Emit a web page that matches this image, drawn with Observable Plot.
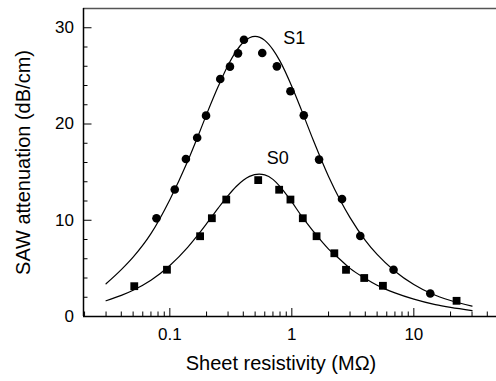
<!DOCTYPE html>
<html>
<head>
<meta charset="utf-8">
<script src="https://cdn.jsdelivr.net/npm/d3@7"></script>
<script src="https://cdn.jsdelivr.net/npm/@observablehq/plot@0.6"></script>
<style>
  html, body { margin: 0; padding: 0; background: #fff; }
  #chart svg { display: block; }
</style>
</head>
<body>
<div id="chart"></div>
<script>
// Scale extents and ticks
const xDomain = [0.0196, 47.6];
const yDomain = [0, 32];
const xMajor = [0.1, 1, 10];
const xMinor = [0.02,0.03,0.04,0.05,0.06,0.07,0.08,0.09,0.2,0.3,0.4,0.5,0.6,0.7,0.8,0.9,2,3,4,5,6,7,8,9,20,30,40];
const yMajor = [0, 10, 20, 30];
const yMinor = [2,4,6,8,12,14,16,18,22,24,26,28];

// S1 measured (circles)
const s1R = [0.0777,0.1097,0.1354,0.1675,0.198,0.259,0.311,0.362,0.405,0.572,0.754,0.974,1.253,1.672,2.578,3.64,6.82,13.64];
const s1A = [10.2,13.19,16.36,18.57,20.87,24.68,25.96,27.34,28.76,27.38,25.99,23.4,20.9,16.3,12.2,8.36,4.85,2.39];

// S0 measured (squares)
const s0R = [0.0511,0.0947,0.177,0.221,0.29,0.53,0.787,0.974,1.23,1.595,2.23,2.78,3.92,5.58,22.4];
const s0A = [3.15,4.86,8.34,10.21,12.15,14.17,13.17,12.15,10.21,8.34,6.57,4.85,4.0,3.19,1.63];

// Fitted curves
const fit1R = [0.03,0.04,0.05,0.07,0.1,0.14,0.17,0.2,0.25,0.3,0.35,0.4,0.45,0.5,0.6,0.7,0.8,1,1.2,1.5,2,2.5,3,4,5,7,10,14,20,30];
const fit1A = [3.4,4.87,6.17,8.61,12.14,16.12,18.73,21.0,23.94,26.1,27.57,28.49,28.96,29.1,28.69,27.73,26.53,23.9,21.44,18.31,14.55,12.05,10.27,7.92,6.45,4.71,3.33,2.37,1.66,1.07];
const fit0R = [0.03,0.04,0.05,0.07,0.1,0.14,0.17,0.2,0.25,0.3,0.35,0.4,0.45,0.54,0.6,0.7,0.8,0.9,1,1.2,1.5,2,2.5,3,4,5,7,10,15,20,30];
const fit0A = [1.64,2.19,2.73,3.77,5.3,7.19,8.48,9.64,11.29,12.56,13.51,14.16,14.56,14.8,14.72,14.25,13.5,12.7,11.9,10.45,8.85,7.0,5.9,5.0,3.95,3.25,2.45,1.8,1.23,0.94,0.62];

// Series labels
const seriesLabels = ["S1", "S0"];
const labelR = [0.849, 0.624];
const labelA = [28.9, 16.4];

const xTitle = "Sheet resistivity (MΩ)";
const yTitle = "SAW attenuation (dB/cm)";

const s1 = s1R.map((r, i) => ({r, a: s1A[i]}));
const s0 = s0R.map((r, i) => ({r, a: s0A[i]}));
const fit1 = fit1R.map((r, i) => ({r, a: fit1A[i]}));
const fit0 = fit0R.map((r, i) => ({r, a: fit0A[i]}));
const labels = seriesLabels.map((t, i) => ({t, r: labelR[i], a: labelA[i]}));

const font = "'Liberation Sans', Arial, Helvetica, sans-serif";

const chart = Plot.plot({
  width: 496,
  height: 381,
  marginLeft: 83,
  marginRight: 0,
  marginTop: 8,
  marginBottom: 65,
  style: {fontFamily: font, fontSize: "17px", color: "#000", background: "#fff"},
  x: {type: "log", domain: xDomain},
  y: {domain: yDomain},
  marks: [
    // frame lines
    Plot.ruleY([yDomain[1]], {stroke: "#555", strokeWidth: 1.3}),
    Plot.ruleY([yDomain[0]], {stroke: "#000", strokeWidth: 1.5}),
    Plot.ruleX([xDomain[0]], {stroke: "#000", strokeWidth: 1.5}),
    // inward ticks
    Plot.axisX({ticks: xMajor, tickSize: -8, fill: "none", label: null, strokeWidth: 1}),
    Plot.axisX({ticks: xMinor, tickSize: -4.5, fill: "none", label: null, strokeWidth: 1}),
    Plot.axisY({ticks: yMajor, tickSize: -8.5, fill: "none", label: null, strokeWidth: 1}),
    Plot.axisY({ticks: yMinor, tickSize: -4.5, fill: "none", label: null, strokeWidth: 1}),
    // tick labels
    Plot.axisX({ticks: xMajor, tickSize: 0, tickPadding: 11, stroke: "none", label: null, tickFormat: d => String(d), fontSize: 17}),
    Plot.axisY({ticks: yMajor, tickSize: 0, tickPadding: 9.5, stroke: "none", label: null, tickFormat: d => String(d), fontSize: 17}),
    // fitted curves
    Plot.line(fit1, {x: "r", y: "a", curve: "monotone-x", stroke: "#000", strokeWidth: 1.2}),
    Plot.line(fit0, {x: "r", y: "a", curve: "monotone-x", stroke: "#000", strokeWidth: 1.2}),
    // data points
    Plot.dot(s1, {x: "r", y: "a", r: 4.3, fill: "#000", stroke: "none", symbol: "circle"}),
    Plot.dot(s0, {x: "r", y: "a", r: 4.4, fill: "#000", stroke: "none", symbol: "square"}),
    // series labels
    Plot.text(labels, {x: "r", y: "a", text: "t", textAnchor: "start", fontSize: 18, fill: "#000"}),
    // axis titles
    Plot.text([xTitle], {frameAnchor: "bottom", textAnchor: "middle", dx: -9, dy: 53, fontSize: 20, fill: "#000"}),
    Plot.text([yTitle], {frameAnchor: "left", textAnchor: "middle", rotate: -90, dx: -60, fontSize: 20, fill: "#000"})
  ]
});

document.getElementById("chart").appendChild(chart);
</script>
</body>
</html>
